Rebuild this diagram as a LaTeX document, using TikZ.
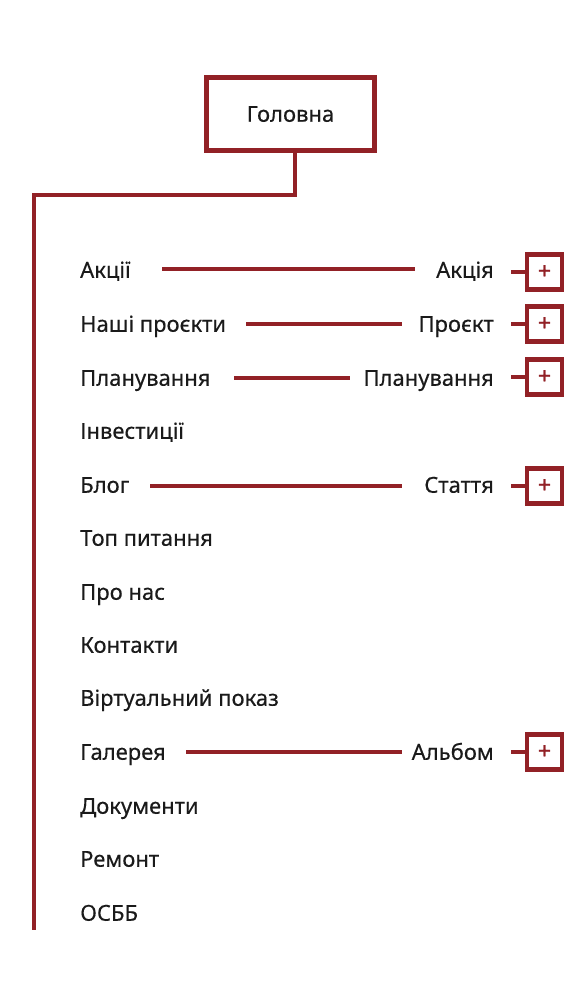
\documentclass[tikz,border=0pt]{standalone}
\usepackage{fontspec}
\setmainfont{Noto Sans}[FakeBold=0.35]
\newfontfamily\plusfont{Noto Sans}[FakeBold=1.2]
\definecolor{brand}{HTML}{922126}
\definecolor{ink}{HTML}{1A1A1A}
\begin{document}
\begin{tikzpicture}[x=1pt,y=-1pt,
  lbl/.style={font=\fontsize{22}{24}\selectfont, text=ink, inner sep=0pt, text height=15.5pt, text depth=0pt},
  leftitem/.style={lbl, anchor=west},
  rightitem/.style={lbl, anchor=east},
  conn/.style={draw=brand, line width=4.5pt},
  plusbox/.style={draw=brand, line width=4.5pt, minimum width=35pt, minimum height=35pt, inner sep=0pt, text=brand, font=\plusfont\fontsize{23}{23}\selectfont, fill=white},
  homebox/.style={draw=brand, line width=5pt, minimum width=168pt, minimum height=73pt, fill=white, lbl}
]
\useasboundingbox (0,0) rectangle (580,1000);
\fill[white] (0,0) rectangle (580,1000);

\node[homebox] (home) at (290.5,114) {Головна};
\coordinate (c1) at (295,195);
\coordinate (c2) at (34,195);
\coordinate (c3) at (34,930);
\draw[conn, line join=miter] (home.south -| c1) -- (c1) -- (c2) -- (c3);

\node[leftitem] (l1) at (80,270) {Акції};
\node[leftitem] (l2) at (80,324) {Наші проєкти};
\node[leftitem] (l3) at (80,378) {Планування};
\node[leftitem] (l4) at (80,431) {Інвестиції};
\node[leftitem] (l5) at (80,485) {Блог};
\node[leftitem] (l6) at (80,538) {Топ питання};
\node[leftitem] (l7) at (80,592) {Про нас};
\node[leftitem] (l8) at (80,645) {Контакти};
\node[leftitem] (l9) at (80,698) {Віртуальний показ};
\node[leftitem] (l10) at (80,752) {Галерея};
\node[leftitem] (l11) at (80,806) {Документи};
\node[leftitem] (l12) at (80,859) {Ремонт};
\node[leftitem] (l13) at (80,913) {ОСББ};

\node[rightitem] (r1) at (494,270) {Акція};
\node[rightitem] (r2) at (494,324) {Проєкт};
\node[rightitem] (r3) at (494,378) {Планування};
\node[rightitem] (r5) at (494,485) {Стаття};
\node[rightitem] (r10) at (494,752) {Альбом};

\node[plusbox] (p1) at (544.5,272) {+};
\node[plusbox] (p2) at (544.5,324) {+};
\node[plusbox] (p3) at (544.5,377) {+};
\node[plusbox] (p5) at (544.5,486) {+};
\node[plusbox] (p10) at (544.5,752) {+};

\coordinate (a1) at (162,269);  \coordinate (b1) at (415,269);
\coordinate (a2) at (246,324);  \coordinate (b2) at (402,324);
\coordinate (a3) at (234,378);  \coordinate (b3) at (350,378);
\coordinate (a5) at (150,486);  \coordinate (b5) at (402,486);
\coordinate (a10) at (186,752); \coordinate (b10) at (402,752);
\draw[conn] (a1) -- (b1);
\draw[conn] (a2) -- (b2);
\draw[conn] (a3) -- (b3);
\draw[conn] (a5) -- (b5);
\draw[conn] (a10) -- (b10);

\coordinate (s1) at (511,272);
\coordinate (s2) at (511,324);
\coordinate (s3) at (511,377);
\coordinate (s5) at (511,486);
\coordinate (s10) at (511,752);
\draw[conn] (s1) -- (p1.west);
\draw[conn] (s2) -- (p2.west);
\draw[conn] (s3) -- (p3.west);
\draw[conn] (s5) -- (p5.west);
\draw[conn] (s10) -- (p10.west);
\end{tikzpicture}
\end{document}
